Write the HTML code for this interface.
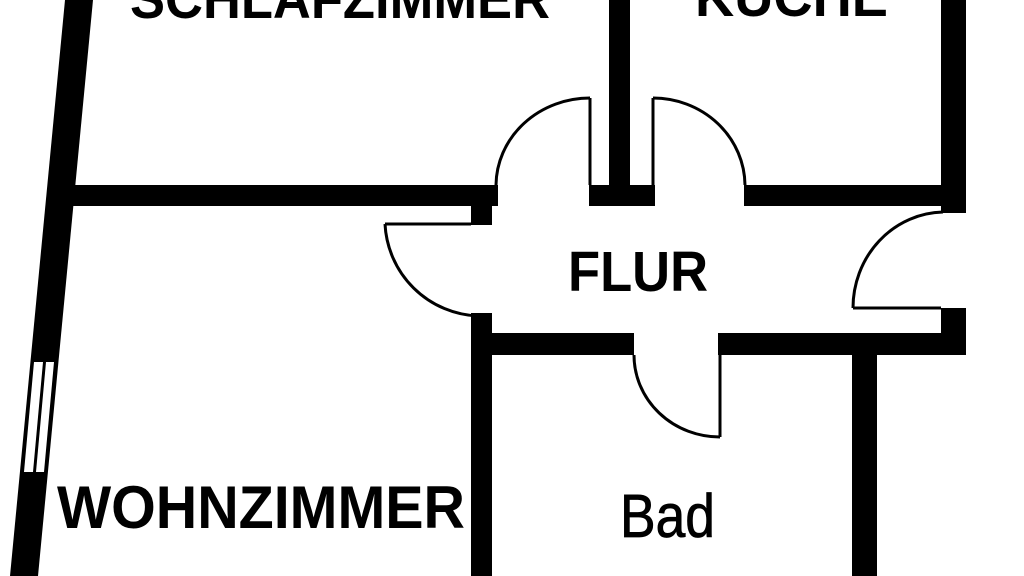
<!DOCTYPE html>
<html><head><meta charset="utf-8"><style>
html,body{margin:0;padding:0;background:#fff;width:1024px;height:576px;overflow:hidden}
svg{display:block}
text{font-family:"Liberation Sans",sans-serif;font-weight:bold;fill:#000}
</style></head><body>
<svg width="1024" height="576" viewBox="0 0 1024 576" xmlns="http://www.w3.org/2000/svg">
<rect width="1024" height="576" fill="#fff"/>
<polygon points="65,0 93,0 38,576 10,576" fill="#000"/>
<polygon points="34,362 43,362 33,472 24,472" fill="#fff"/>
<polygon points="46,362 54,362 44,472 36,472" fill="#fff"/>
<g fill="#000">
<rect x="70" y="185" width="428" height="21"/>
<rect x="471" y="206" width="21" height="19"/>
<rect x="609" y="0" width="21" height="206"/>
<rect x="589" y="185" width="66" height="21"/>
<rect x="744" y="185" width="222" height="21"/>
<rect x="941" y="0" width="25" height="213"/>
<rect x="941" y="308" width="25" height="47"/>
<rect x="471" y="313" width="21" height="263"/>
<rect x="492" y="333" width="142" height="22"/>
<rect x="718" y="333" width="248" height="22"/>
<rect x="852" y="355" width="25" height="221"/>
</g>
<g fill="none" stroke="#000" stroke-width="3">
<line x1="385" y1="224" x2="471" y2="224"/>
<path d="M385,224 A97,97 0 0 0 478,316"/>
<line x1="590" y1="98" x2="590" y2="185"/>
<path d="M590,98 A94,88 0 0 0 496,185"/>
<line x1="653" y1="98" x2="653" y2="185"/>
<path d="M653,98 A92,88 0 0 1 745,185"/>
<line x1="853" y1="308" x2="941" y2="308"/>
<path d="M943,212 A92,96 0 0 0 853,308"/>
<line x1="720" y1="355" x2="720" y2="437"/>
<path d="M634,355 A86,82 0 0 0 720,437"/>
</g>
<text x="130" y="18" font-size="56" textLength="420" lengthAdjust="spacingAndGlyphs">SCHLAFZIMMER</text>
<text x="695" y="16" font-size="56" textLength="193" lengthAdjust="spacingAndGlyphs">KÜCHE</text>
<text x="568" y="291" font-size="57" textLength="140" lengthAdjust="spacingAndGlyphs">FLUR</text>
<text x="57" y="528" font-size="60" textLength="408" lengthAdjust="spacingAndGlyphs">WOHNZIMMER</text>
<text x="620" y="537" font-size="61" style="font-weight:normal" stroke="#000" stroke-width="0.8" textLength="95" lengthAdjust="spacingAndGlyphs">Bad</text>
</svg>
</body></html>
